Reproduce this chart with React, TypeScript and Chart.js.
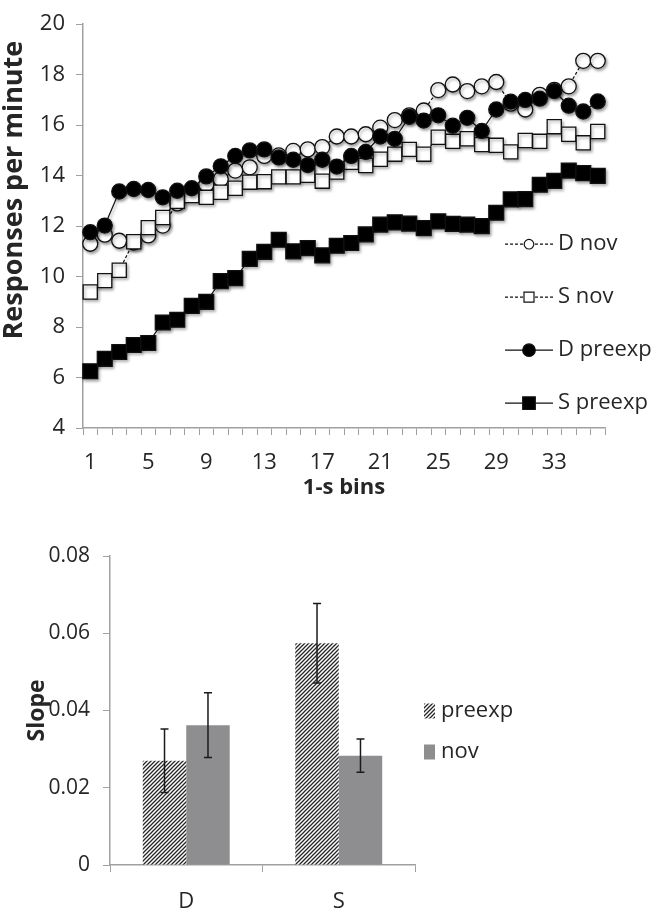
import React, { useEffect, useRef } from "react";
import { Chart, registerables } from "chart.js";
Chart.register(...registerables);

// ---------- Top chart data ----------
const bins = [
  "1", "2", "3", "4", "5", "6", "7", "8", "9", "10", "11", "12",
  "13", "14", "15", "16", "17", "18", "19", "20", "21", "22", "23", "24",
  "25", "26", "27", "28", "29", "30", "31", "32", "33", "34", "35", "36",
];
const seriesNames = ["D nov", "S nov", "D preexp", "S preexp"];
const dNov = [
  11.3, 11.66, 11.42, 11.35, 11.63, 12.02, 12.9, 13.4, 13.65, 13.86, 14.2, 14.33,
  14.78, 14.8, 14.98, 15.04, 15.13, 15.55, 15.55, 15.64, 15.9, 16.2, 16.39, 16.58,
  17.39, 17.61, 17.35, 17.54, 17.71, 16.85, 16.62, 17.2, 17.4, 17.54, 18.55, 18.55,
];
const sNov = [
  9.39, 9.84, 10.25, 11.38, 11.94, 12.34, 12.98, 13.21, 13.14, 13.34, 13.5, 13.74,
  13.76, 13.95, 13.95, 14.01, 13.78, 14.14, 14.53, 14.4, 14.65, 14.85, 15.04, 14.85,
  15.52, 15.36, 15.46, 15.23, 15.2, 14.94, 15.39, 15.36, 15.94, 15.64, 15.3, 15.75,
];
const dPreexp = [
  11.76, 12.02, 13.37, 13.47, 13.43, 13.14, 13.4, 13.5, 13.97, 14.37, 14.78, 15.0,
  15.04, 14.72, 14.63, 14.42, 14.63, 14.36, 14.78, 14.94, 15.55, 15.46, 16.33, 16.18,
  16.39, 15.98, 16.29, 15.77, 16.62, 16.93, 17.0, 17.05, 17.35, 16.77, 16.54, 16.94,
];
const sPreexp = [
  6.25, 6.74, 7.01, 7.29, 7.37, 8.18, 8.29, 8.84, 9.0, 9.82, 9.94, 10.7,
  10.98, 11.46, 11.0, 11.13, 10.84, 11.22, 11.33, 11.67, 12.06, 12.15, 12.1, 11.92,
  12.19, 12.09, 12.06, 12.0, 12.53, 13.06, 13.07, 13.64, 13.79, 14.2, 14.1, 13.99,
];
const topYMin = 4;
const topYMax = 20;
const topYStep = 2;
const topYTitle = "Responses per minute";
const topXTitle = "1-s bins";

// ---------- Bottom chart data ----------
const groups = ["D", "S"];
const barSeries = ["preexp", "nov"];
const preexpSlope = [0.027, 0.0574];
const preexpErr = [0.0082, 0.0103];
const novSlope = [0.0362, 0.0283];
const novErr = [0.0084, 0.0043];
const botYMin = 0;
const botYMax = 0.08;
const botYStep = 0.02;
const botYTitle = "Slope";

const FONT = "'Open Sans', 'DejaVu Sans', sans-serif";
const TEXT = "#262626";
const AXIS = "#a0a0a0";
const NOV_GRAY = "#8e8e90";

function makeHatch(): CanvasPattern | string {
  const c = document.createElement("canvas");
  c.width = 4;
  c.height = 4;
  const g = c.getContext("2d");
  if (!g) return "#555";
  g.fillStyle = "#ffffff";
  g.fillRect(0, 0, 4, 4);
  g.strokeStyle = "#262626";
  g.lineWidth = 1.3;
  g.beginPath();
  g.moveTo(-1, 5);
  g.lineTo(5, -1);
  g.moveTo(-1, 1);
  g.lineTo(1, -1);
  g.moveTo(3, 5);
  g.lineTo(5, 3);
  g.stroke();
  return g.createPattern(c, "repeat") || "#555";
}

const shadowPlugin = {
  id: "markerShadow",
  beforeDatasetsDraw(chart: any) {
    const c = chart.ctx;
    c.save();
    c.shadowColor = "rgba(0,0,0,0.35)";
    c.shadowBlur = 3;
    c.shadowOffsetX = 1.5;
    c.shadowOffsetY = 2;
  },
  afterDatasetsDraw(chart: any) {
    chart.ctx.restore();
  },
};

// Y-axis title of the top chart, drawn slightly above the axis centre as in the original
const topYTitlePlugin = {
  id: "topYTitle",
  afterDraw(chart: any) {
    const ctx = chart.ctx as CanvasRenderingContext2D;
    const a = chart.chartArea;
    ctx.save();
    ctx.translate(14, (a.top + a.bottom) / 2 - 36);
    ctx.rotate(-Math.PI / 2);
    ctx.fillStyle = TEXT;
    ctx.font = `bold 27px ${FONT}`;
    ctx.textAlign = "center";
    ctx.textBaseline = "middle";
    ctx.fillText(topYTitle, 0, 0);
    ctx.restore();
  },
};

const lineLegendPlugin = {
  id: "lineLegend",
  afterDraw(chart: any) {
    const ctx = chart.ctx as CanvasRenderingContext2D;
    const a = chart.chartArea;
    const styles = [
      { dash: [3, 2], shape: "circle", fill: "#ffffff", size: 4.8 },
      { dash: [3, 2], shape: "rect", fill: "#ffffff", size: 5 },
      { dash: [], shape: "circle", fill: "#000000", size: 6.3 },
      { dash: [], shape: "rect", fill: "#000000", size: 6.3 },
    ];
    const x0 = a.right - 100;
    const x1 = x0 + 48;
    const xm = (x0 + x1) / 2;
    ctx.save();
    seriesNames.forEach((name, i) => {
      const st = styles[i];
      const y = a.top + 220 + i * 53;
      ctx.strokeStyle = "#111";
      ctx.lineWidth = 1.2;
      ctx.setLineDash(st.dash);
      ctx.beginPath();
      ctx.moveTo(x0, y);
      ctx.lineTo(x1, y);
      ctx.stroke();
      ctx.setLineDash([]);
      ctx.fillStyle = st.fill;
      ctx.beginPath();
      if (st.shape === "circle") ctx.arc(xm, y, st.size, 0, Math.PI * 2);
      else ctx.rect(xm - st.size, y - st.size, st.size * 2, st.size * 2);
      ctx.fill();
      ctx.stroke();
      ctx.fillStyle = TEXT;
      ctx.font = `22px ${FONT}`;
      ctx.textBaseline = "middle";
      ctx.textAlign = "left";
      ctx.fillText(name, x1 + 5, y);
    });
    ctx.restore();
  },
};

const errorBarPlugin = {
  id: "errorBars",
  afterDatasetsDraw(chart: any) {
    const ctx = chart.ctx as CanvasRenderingContext2D;
    const yScale = chart.scales.y;
    ctx.save();
    ctx.strokeStyle = "#1a1a1a";
    ctx.lineWidth = 1.5;
    chart.data.datasets.forEach((ds: any, di: number) => {
      const meta = chart.getDatasetMeta(di);
      meta.data.forEach((el: any, j: number) => {
        const v = ds.data[j];
        const e = ds.errors[j];
        const yt = yScale.getPixelForValue(v + e);
        const yb = yScale.getPixelForValue(v - e);
        const x = el.x;
        const cap = 4;
        ctx.beginPath();
        ctx.moveTo(x, yt);
        ctx.lineTo(x, yb);
        ctx.moveTo(x - cap, yt);
        ctx.lineTo(x + cap, yt);
        ctx.moveTo(x - cap, yb);
        ctx.lineTo(x + cap, yb);
        ctx.stroke();
      });
    });
    ctx.restore();
  },
};

const barLegendPlugin = {
  id: "barLegend",
  afterDraw(chart: any) {
    const ctx = chart.ctx as CanvasRenderingContext2D;
    const a = chart.chartArea;
    const fills = chart.data.datasets.map((d: any) => d.backgroundColor);
    ctx.save();
    barSeries.forEach((name, i) => {
      const yc = a.top + 155 + i * 41;
      const x = a.right + 9;
      ctx.fillStyle = fills[i];
      ctx.fillRect(x, yc - 7.5, 11, 15);
      ctx.fillStyle = TEXT;
      ctx.font = `22px ${FONT}`;
      ctx.textBaseline = "middle";
      ctx.textAlign = "left";
      ctx.fillText(name, x + 17, yc);
    });
    ctx.restore();
  },
};

export default function App() {
  const r1 = useRef<HTMLCanvasElement>(null);
  const r2 = useRef<HTMLCanvasElement>(null);

  useEffect(() => {
    document.body.style.margin = "0";
    const mk = (label: string, data: number[], dash: number[], style: string, fill: string, radius: number, order: number) => ({
      label,
      data,
      borderColor: "#111",
      borderWidth: 1.2,
      borderDash: dash,
      pointStyle: style,
      pointRadius: radius,
      pointBackgroundColor: fill,
      pointBorderColor: "#111",
      pointBorderWidth: 1.3,
      tension: 0,
      fill: false,
      order,
      clip: false,
    });

    const c1 = new Chart(r1.current as HTMLCanvasElement, {
      type: "line",
      data: {
        labels: bins,
        datasets: [
          mk(seriesNames[0], dNov, [3, 2], "circle", "#ffffff", 7.5, 4),
          mk(seriesNames[1], sNov, [3, 2], "rect", "#ffffff", 10, 3),
          mk(seriesNames[2], dPreexp, [], "circle", "#000000", 7.5, 2),
          mk(seriesNames[3], sPreexp, [], "rect", "#000000", 10.5, 1),
        ] as any,
      },
      options: {
        animation: false,
        responsive: false,
        devicePixelRatio: 1,
        layout: { padding: { top: 13, right: 47, bottom: 0, left: 0 } },
        plugins: { legend: { display: false }, tooltip: { enabled: false } },
        scales: {
          x: {
            type: "category",
            offset: true,
            grid: { display: true, drawOnChartArea: false, drawTicks: true, tickLength: 7, color: AXIS, offset: true },
            border: { display: true, color: AXIS, width: 1.5 },
            ticks: {
              autoSkip: false,
              maxRotation: 0,
              padding: 15,
              color: TEXT,
              font: { family: FONT, size: 22 },
              callback: (_v: any, i: number) => (i % 4 === 0 ? bins[i] : ""),
            },
            title: {
              display: true,
              text: topXTitle,
              color: TEXT,
              font: { family: FONT, size: 22, weight: "bold" },
              padding: { top: 0, bottom: 19 },
            },
            afterFit: (s: any) => {
              s.height = 92;
            },
          },
          y: {
            min: topYMin,
            max: topYMax,
            ticks: { stepSize: topYStep, padding: 11, color: TEXT, font: { family: FONT, size: 22 } },
            grid: { display: true, drawOnChartArea: false, drawTicks: true, tickLength: 7, color: AXIS },
            border: { display: true, color: AXIS, width: 1.5 },
            title: { display: false },
            afterFit: (s: any) => {
              s.width = 83;
            },
          },
        },
      } as any,
      plugins: [shadowPlugin, lineLegendPlugin, topYTitlePlugin],
    });

    const hatch = makeHatch();
    const c2 = new Chart(r2.current as HTMLCanvasElement, {
      type: "bar",
      data: {
        labels: groups,
        datasets: [
          { label: barSeries[0], data: preexpSlope, errors: preexpErr, backgroundColor: hatch, borderWidth: 0, categoryPercentage: 0.57, barPercentage: 1 },
          { label: barSeries[1], data: novSlope, errors: novErr, backgroundColor: NOV_GRAY, borderWidth: 0, categoryPercentage: 0.57, barPercentage: 1 },
        ] as any,
      },
      options: {
        animation: false,
        responsive: false,
        devicePixelRatio: 1,
        layout: { padding: { top: 36, right: 237, bottom: 0, left: 0 } },
        plugins: { legend: { display: false }, tooltip: { enabled: false } },
        scales: {
          x: {
            grid: { display: true, drawOnChartArea: false, drawTicks: true, tickLength: 7, color: AXIS, offset: true },
            border: { display: true, color: AXIS, width: 1.5 },
            ticks: { padding: 17, color: TEXT, font: { family: FONT, size: 22 } },
            afterFit: (s: any) => {
              s.height = 47;
            },
          },
          y: {
            min: botYMin,
            max: botYMax,
            ticks: {
              stepSize: botYStep,
              padding: 13,
              color: TEXT,
              font: { family: FONT, size: 21 },
              callback: (v: any) => (Number(v) === 0 ? "0" : Number(v).toFixed(2)),
            },
            grid: { display: true, drawOnChartArea: false, drawTicks: true, tickLength: 7, color: AXIS },
            border: { display: true, color: AXIS, width: 1.5 },
            title: {
              display: true,
              text: botYTitle,
              color: TEXT,
              font: { family: FONT, size: 23, weight: "bold" },
              padding: { top: 24, bottom: 0 },
            },
            afterFit: (s: any) => {
              s.width = 110;
            },
          },
        },
      } as any,
      plugins: [errorBarPlugin, barLegendPlugin],
    });

    return () => {
      c1.destroy();
      c2.destroy();
    };
  }, []);

  return (
    <div style={{ position: "relative", width: 652, height: 912, background: "#ffffff" }}>
      <canvas ref={r1} width={652} height={520} style={{ position: "absolute", left: 0, top: 0, width: 652, height: 520 }} />
      <canvas ref={r2} width={652} height={392} style={{ position: "absolute", left: 0, top: 520, width: 652, height: 392 }} />
    </div>
  );
}
